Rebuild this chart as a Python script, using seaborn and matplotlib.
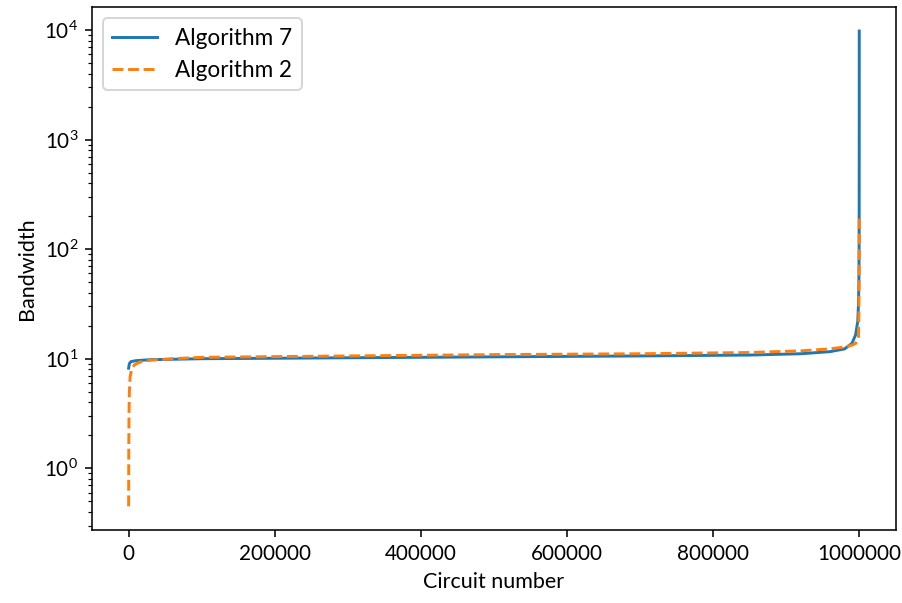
import matplotlib
matplotlib.use("Agg")
import matplotlib.pyplot as plt
import seaborn as sns

# sorted bandwidth per circuit at a few points
alg7_x = [0, 1000, 3000, 10000, 30000, 100000, 300000, 500000, 700000, 850000,
          920000, 960000, 980000, 990000, 995000, 998000, 999000, 999500,
          999800, 999900, 999990, 1000000]
alg7_y = [8.2, 9.0, 9.4, 9.6, 9.8, 10.0, 10.2, 10.4, 10.6, 10.8,
          11.1, 11.6, 12.3, 13.8, 16.5, 22, 32, 50,
          100, 220, 1500, 9800]

alg2_x = [0, 200, 500, 1000, 2000, 4000, 8000, 15000, 30000, 60000, 100000,
          300000, 500000, 700000, 850000, 920000, 960000, 980000, 990000,
          995000, 998000, 999000, 999500, 999900, 1000000]
alg2_y = [0.45, 1.5, 3.0, 5.0, 6.8, 8.0, 8.8, 9.3, 9.7, 10.0, 10.3,
          10.6, 10.9, 11.1, 11.4, 11.8, 12.3, 12.8, 13.3,
          13.8, 14.5, 16, 25, 70, 190]

plt.rcParams['font.family'] = ['Lato', 'DejaVu Sans']
plt.rcParams['mathtext.fontset'] = 'custom'
plt.rcParams['mathtext.rm'] = 'Lato'
plt.rcParams['mathtext.it'] = 'Lato:italic'

fig, ax = plt.subplots(figsize=(903 / 141, 603 / 141), dpi=141)
sns.lineplot(x=alg7_x, y=alg7_y, ax=ax, color='#1f77b4', linewidth=1.5,
             estimator=None, label='Algorithm 7')
sns.lineplot(x=alg2_x, y=alg2_y, ax=ax, color='#ff7f0e', linewidth=1.5,
             linestyle='--', estimator=None, label='Algorithm 2')
ax.set_yscale('log')
ax.ticklabel_format(axis='x', style='plain')
ax.tick_params(labelsize=10.5)
ax.set_xlabel('Circuit number', fontsize=11)
ax.set_ylabel('Bandwidth', fontsize=11)
ax.legend(loc='upper left', fontsize=11.5)
fig.subplots_adjust(left=0.102, right=0.992, bottom=0.121, top=0.988)
fig.savefig('out.png', dpi=141)
